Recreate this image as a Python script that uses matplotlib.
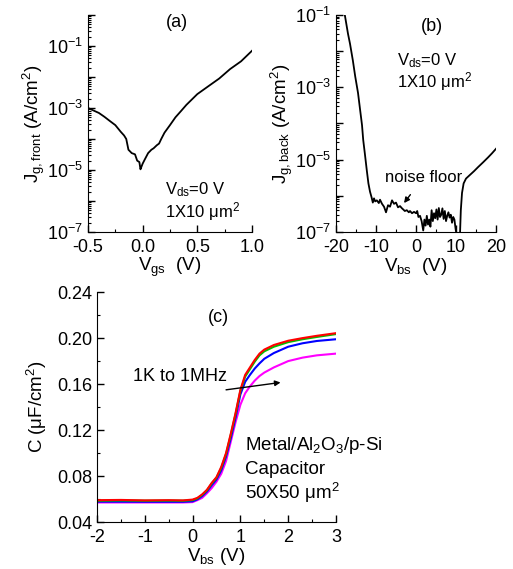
import numpy as np
import matplotlib
matplotlib.use("Agg")
import matplotlib.pyplot as plt
from matplotlib.ticker import FuncFormatter, LogLocator, MultipleLocator, NullFormatter

plt.rcParams['font.family'] = ['Liberation Sans', 'DejaVu Sans']
plt.rcParams['mathtext.fontset'] = 'custom'
plt.rcParams['mathtext.rm'] = 'Liberation Sans'
plt.rcParams['mathtext.it'] = 'Liberation Sans:italic'
plt.rcParams['axes.unicode_minus'] = False

# ---- (a) front gate leakage ----
vgs = [-0.5, -0.45, -0.4, -0.35, -0.3, -0.25, -0.2, -0.17, -0.15, -0.13, -0.1,
       -0.07, -0.05, -0.03, -0.02, -0.01, 0.0, 0.02, 0.05, 0.08, 0.1, 0.13,
       0.15, 0.17, 0.2, 0.25, 0.3, 0.35, 0.4, 0.5, 0.6, 0.7, 0.8, 0.9, 1.0]
jg_front = [1.0e-3, 8.3e-4, 6.9e-4, 5.2e-4, 3.8e-4, 2.8e-4, 1.7e-4, 1.3e-4,
            1.0e-4, 4.5e-5, 3.5e-5, 3.2e-5, 2.0e-5, 1.8e-5, 1.05e-5, 1.3e-5,
            1.6e-5, 2.2e-5, 3.5e-5, 4.5e-5, 5.0e-5, 6.3e-5, 7.1e-5, 1.0e-4,
            1.6e-4, 2.8e-4, 5.0e-4, 7.9e-4, 1.26e-3, 2.8e-3, 5.0e-3, 8.9e-3,
            1.8e-2, 3.2e-2, 7.0e-2]

# ---- (b) back gate leakage ----
vbs_b1 = [-17.8, -17.0, -16.5, -15.8, -15.2, -14.5, -14.0, -13.5, -13.2,
          -12.8, -12.3, -11.9, -11.5, -11.1, -10.8, -10.5, -10.2, -9.8, -9.3,
          -9.0, -8.5, -8.0, -7.5, -7.3, -7.0, -6.5, -6.0, -5.5, -5.0, -4.5,
          -4.0, -3.5, -3.2, -2.8, -2.3, -1.8, -1.5, -1.0, -0.5, 0.0, 0.3, 0.6,
          1.0, 1.4, 1.8, 2.1, 2.4, 2.7, 3.0, 3.3, 3.6, 3.9, 4.2, 4.5, 4.8,
          5.1, 5.4, 5.7, 6.0, 6.3, 6.6, 6.9, 7.2, 7.5, 7.8, 8.1, 8.4, 8.7,
          9.0, 9.3, 9.6, 9.9, 10.1]
jg_back1 = [1.0e-1, 3.0e-2, 1.6e-2, 5.6e-3, 2.0e-3, 7.0e-4, 2.5e-4, 9.0e-5,
            3.5e-5, 1.5e-5, 5.0e-6, 2.2e-6, 1.3e-6, 9.0e-7, 6.5e-7, 8.5e-7,
            7.0e-7, 7.5e-7, 6.3e-7, 7.8e-7, 6.0e-7, 5.0e-7, 3.5e-7, 4.2e-7,
            5.5e-7, 5.0e-7, 7.5e-7, 6.0e-7, 6.5e-7, 4.8e-7, 5.2e-7, 4.5e-7,
            4.2e-7, 3.8e-7, 4.0e-7, 3.5e-7, 3.8e-7, 3.3e-7, 3.6e-7, 3.3e-7,
            3.8e-7, 2.6e-7, 2.8e-7, 2.0e-7, 1.1e-7, 2.2e-7, 1.5e-7, 2.8e-7,
            1.6e-7, 2.2e-7, 1.4e-7, 4.0e-7, 2.0e-7, 3.3e-7, 2.4e-7, 4.2e-7,
            2.2e-7, 4.6e-7, 2.6e-7, 3.0e-7, 4.5e-7, 2.3e-7, 3.8e-7, 2.0e-7,
            2.8e-7, 3.5e-7, 2.5e-7, 3.0e-7, 1.8e-7, 2.6e-7, 2.2e-7, 1.2e-7,
            9.0e-8]
vbs_b2 = [11.0, 11.2, 11.5, 11.9, 12.5, 13.5, 14.5, 15.5, 16.8, 18.0, 19.0, 20.0]
jg_back2 = [9.0e-8, 4.0e-7, 1.2e-6, 2.2e-6, 3.0e-6, 3.8e-6, 4.8e-6, 6.2e-6,
            8.5e-6, 1.15e-5, 1.5e-5, 2.0e-5]

# ---- (c) C-V curves ----
vbs_c = [-2.0, -1.5, -1.0, -0.5, -0.2, 0.0, 0.1, 0.2, 0.3, 0.4, 0.5, 0.6, 0.7,
         0.8, 0.9, 1.0, 1.1, 1.2, 1.3, 1.4, 1.5, 1.7, 2.0, 2.3, 2.6, 3.0]
c_red = [0.0590, 0.0592, 0.0588, 0.0590, 0.0588, 0.0595, 0.0610, 0.0640,
         0.0680, 0.0740, 0.0790, 0.0880, 0.1000, 0.1170, 0.1350, 0.1550,
         0.1680, 0.1745, 0.1810, 0.1865, 0.1900, 0.1940, 0.1977, 0.2000,
         0.2020, 0.2043]
c_green = [0.0585, 0.0587, 0.0585, 0.0586, 0.0585, 0.0590, 0.0605, 0.0635,
           0.0675, 0.0735, 0.0785, 0.0870, 0.0990, 0.1160, 0.1340, 0.1540,
           0.1665, 0.1730, 0.1795, 0.1850, 0.1885, 0.1925, 0.1965, 0.1990,
           0.2010, 0.2035]
c_blue = [0.0577, 0.0577, 0.0576, 0.0576, 0.0576, 0.0580, 0.0597, 0.0625,
          0.0665, 0.0720, 0.0770, 0.0850, 0.0970, 0.1130, 0.1310, 0.1510,
          0.1620, 0.1680, 0.1735, 0.1780, 0.1820, 0.1870, 0.1925, 0.1955,
          0.1975, 0.1990]
c_magenta = [0.0570, 0.0570, 0.0570, 0.0570, 0.0570, 0.0573, 0.0590, 0.0610,
             0.0650, 0.0695, 0.0750, 0.0820, 0.0930, 0.1100, 0.1270, 0.1420,
             0.1520, 0.1580, 0.1630, 0.1670, 0.1700, 0.1745, 0.1800, 0.1830,
             0.1850, 0.1865]

FS_TICK = 13
FS_LAB = 13.5
FS_TXT = 13


def log_fmt(v, pos):
    e = int(round(np.log10(v)))
    if e % 2 == 0:
        return ''
    return r'$\mathregular{10^{%d}}$' % e


def style(ax):
    for s in ('top', 'right'):
        ax.spines[s].set_visible(False)
    ax.tick_params(which='both', direction='in', labelsize=FS_TICK)
    ax.tick_params(which='major', length=5, width=1)
    ax.tick_params(which='minor', length=2.5, width=0.8)
    ax.tick_params(axis='x', which='major', pad=5)


def log_axis(ax):
    ax.set_yscale('log')
    ax.yaxis.set_major_locator(LogLocator(base=10, numticks=20))
    ax.yaxis.set_minor_locator(LogLocator(base=10, subs=np.arange(2, 10), numticks=20))
    ax.yaxis.set_major_formatter(FuncFormatter(log_fmt))
    ax.yaxis.set_minor_formatter(NullFormatter())


fig = plt.figure(figsize=(5.13, 5.69), dpi=100)

# (a)
ax1 = fig.add_axes([0.1715, 0.5923, 0.3197, 0.3814])
ax1.plot(vgs, jg_front, color='black', lw=1.3)
log_axis(ax1)
ax1.set_xlim(-0.5, 1.0)
ax1.set_ylim(1e-7, 1e0)
ax1.xaxis.set_major_locator(MultipleLocator(0.5))
ax1.xaxis.set_minor_locator(MultipleLocator(0.25))
ax1.xaxis.set_major_formatter(FuncFormatter(lambda v, p: '%.1f' % v))
style(ax1)
ax1.set_xlabel(r'$\mathregular{V_{gs}}$  (V)', fontsize=FS_LAB, labelpad=0)
ax1.set_ylabel(r'$\mathregular{J_{g,front}}$ (A/cm$\mathregular{^2}$)', fontsize=FS_LAB, labelpad=0)
ax1.text(0.31, 10 ** -0.25, '(a)', fontsize=FS_TXT, ha='center', va='center')
ax1.text(0.2, 10 ** -5.65, r'$\mathregular{V_{ds}}$=0 V', fontsize=FS_TICK - 1, va='center')
ax1.text(0.2, 10 ** -6.35, r'1X10 $\mathregular{\mu m^2}$', fontsize=FS_TICK - 1, va='center')

# (b)
ax2 = fig.add_axes([0.655, 0.5923, 0.3119, 0.3814])
ax2.plot(vbs_b1, jg_back1, color='black', lw=1.3)
ax2.plot(vbs_b2, jg_back2, color='black', lw=1.3)
log_axis(ax2)
ax2.set_xlim(-20, 20)
ax2.set_ylim(1e-7, 1e-1)
ax2.xaxis.set_major_locator(MultipleLocator(10))
ax2.xaxis.set_minor_locator(MultipleLocator(5))
style(ax2)
ax2.set_xlabel(r'$\mathregular{V_{bs}}$  (V)', fontsize=FS_LAB, labelpad=0)
ax2.set_ylabel(r'$\mathregular{J_{g,back}}$ (A/cm$\mathregular{^2}$)', fontsize=FS_LAB, labelpad=0)
ax2.text(4, 10 ** -1.33, '(b)', fontsize=FS_TXT, ha='center', va='center')
ax2.text(-4.8, 10 ** -2.25, r'$\mathregular{V_{ds}}$=0 V', fontsize=FS_TICK - 1, va='center')
ax2.text(-4.8, 10 ** -2.85, r'1X10 $\mathregular{\mu m^2}$', fontsize=FS_TICK - 1, va='center')
ax2.annotate('noise floor', xy=(-3.0, 10 ** -6.2), xytext=(1.8, 10 ** -5.5),
             fontsize=FS_TICK - 1, ha='center', va='center',
             arrowprops=dict(arrowstyle='-|>', color='black', lw=1,
                             mutation_scale=8, shrinkA=6, shrinkB=0))

# (c)
ax3 = fig.add_axes([0.189, 0.0826, 0.466, 0.404])
ax3.plot(vbs_c, c_magenta, color='#ff00ff', lw=1.5)
ax3.plot(vbs_c, c_blue, color='#0000ff', lw=1.5)
ax3.plot(vbs_c, c_green, color='#00c000', lw=1.5)
ax3.plot(vbs_c, c_red, color='#ff0000', lw=1.5)
ax3.set_xlim(-2, 3)
ax3.set_ylim(0.04, 0.24)
ax3.xaxis.set_major_locator(MultipleLocator(1))
ax3.xaxis.set_minor_locator(MultipleLocator(0.5))
ax3.yaxis.set_major_locator(MultipleLocator(0.04))
ax3.yaxis.set_minor_locator(MultipleLocator(0.02))
ax3.yaxis.set_major_formatter(FuncFormatter(lambda v, p: '%.2f' % v))
style(ax3)
ax3.set_xlabel(r'$\mathregular{V_{bs}}$ (V)', fontsize=FS_LAB, labelpad=0)
ax3.set_ylabel(r'C ($\mathregular{\mu}$F/cm$\mathregular{^2}$)', fontsize=FS_LAB, labelpad=6)
ax3.text(0.55, 0.2175, '(c)', fontsize=FS_TXT, ha='center', va='center')
ax3.annotate('', xy=(1.84, 0.1614), xytext=(0.7, 0.155),
             arrowprops=dict(arrowstyle='-|>', color='black', lw=1,
                             mutation_scale=8, shrinkA=0, shrinkB=0))
ax3.text(-1.25, 0.1667, '1K to 1MHz', fontsize=FS_TXT, va='center')
ax3.text(1.1, 0.1065, r'Metal/Al$\mathregular{_2}$O$\mathregular{_3}$/p-Si', fontsize=FS_TXT + 0.5, va='center')
ax3.text(1.1, 0.086, 'Capacitor', fontsize=FS_TXT + 0.5, va='center')
ax3.text(1.1, 0.0655, r'50X50 $\mathregular{\mu m^2}$', fontsize=FS_TXT + 0.5, va='center')

fig.savefig('out.png', dpi=100)
